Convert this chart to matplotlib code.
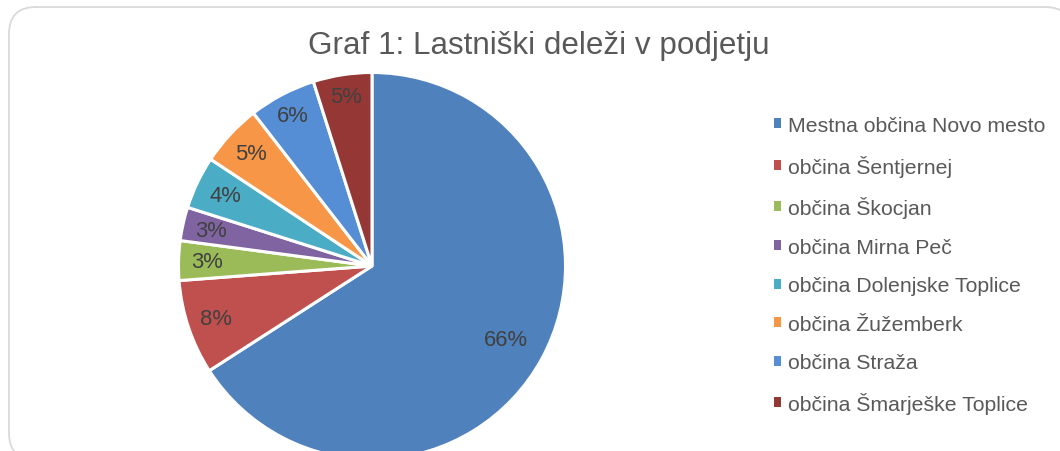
import numpy as np
import matplotlib
matplotlib.use("Agg")
import matplotlib.pyplot as plt
from matplotlib.patches import FancyBboxPatch

# ---- data ----
categories = [
    "Mestna občina Novo mesto",
    "občina Šentjernej",
    "občina Škocjan",
    "občina Mirna Peč",
    "občina Dolenjske Toplice",
    "občina Žužemberk",
    "občina Straža",
    "občina Šmarješke Toplice",
]
shares = [65.9, 7.9, 3.3, 2.8, 4.4, 5.2, 5.6, 4.9]
title_text = "Graf 1: Lastniški deleži v podjetju"

# ---- style ----
colors = ["#4F81BD", "#C0504D", "#9BBB59", "#8064A2",
          "#4BACC6", "#F79646", "#558ED5", "#953735"]
label_dist = [0.79, 0.85, 0.855, 0.85, 0.84, 0.855, 0.88, 0.885]

plt.rcParams['font.family'] = ['Liberation Sans', 'DejaVu Sans']

W, H = 1060, 452
fig = plt.figure(figsize=(W / 100, H / 100), dpi=100)
fig.patch.set_facecolor("white")

# background axes in pixel units (y downward) for the rounded chart frame
bg = fig.add_axes([0, 0, 1, 1], zorder=-1)
bg.set_xlim(0, W)
bg.set_ylim(H, 0)
bg.axis("off")
frame_shape = FancyBboxPatch((9, 8), 1063, 453,
                             boxstyle="round,pad=0,rounding_size=27")
for poly in frame_shape.get_path().to_polygons(closed_only=False):
    bg.plot(poly[:, 0], poly[:, 1], color="#D9D9D9", linewidth=1.3,
            solid_joinstyle="round")

# pie axes: center (372, 267) px, radius 193.5 px
cx, cy, R = 372, 267, 193.5
m = 1.05
ax = fig.add_axes([(cx - R * m) / W, (H - cy - R * m) / H, 2 * R * m / W, 2 * R * m / H])
ax.axis("off")

wedges, _ = ax.pie(shares, colors=colors, startangle=90, counterclock=False,
                   radius=1.0, frame=False,
                   wedgeprops=dict(edgecolor="white", linewidth=2.2))
ax.set_xlim(-m, m)
ax.set_ylim(-m, m)

for w, v, d in zip(wedges, shares, label_dist):
    ang = np.deg2rad((w.theta1 + w.theta2) / 2)
    ax.text(d * np.cos(ang), d * np.sin(ang), f"{v:.0f}%",
            ha="center", va="center", fontsize=15.8, color="#404040")

fig.text(539 / W, 1 - 46 / H, title_text, ha="center", va="center",
         fontsize=22.6, color="#595959")

leg = fig.legend(wedges, categories, loc="upper left",
                 bbox_to_anchor=(774 / W, 1 - 117 / H),
                 bbox_transform=fig.transFigure,
                 frameon=False, fontsize=15.3, labelcolor="#595959",
                 handlelength=0.35, handleheight=0.35, handletextpad=0.3,
                 labelspacing=0.92, borderpad=0, borderaxespad=0)
for h in leg.legend_handles:
    h.set_linewidth(0)

fig.savefig("out.png", dpi=100, facecolor="white")
